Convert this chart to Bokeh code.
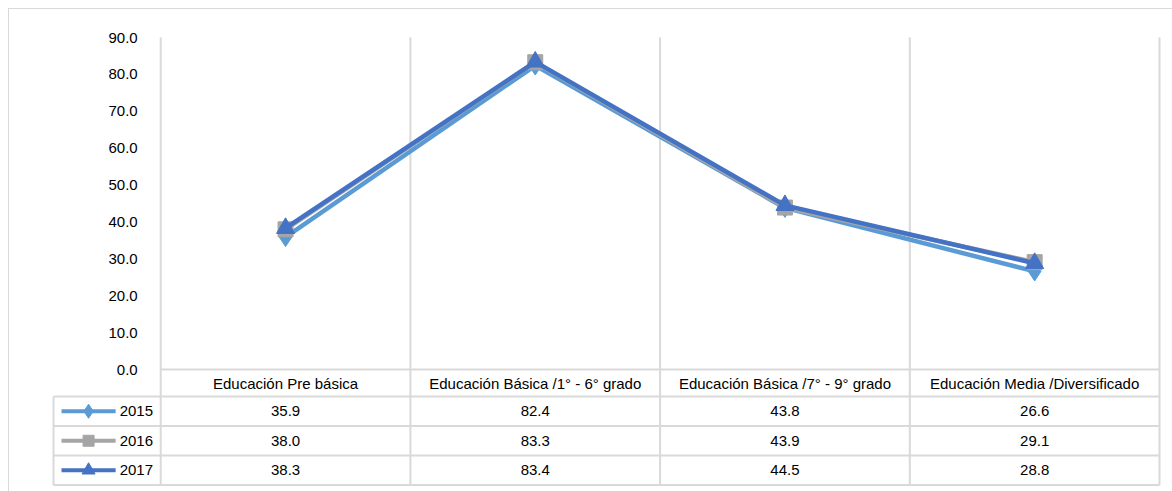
from bokeh.plotting import figure
from bokeh.models import FixedTicker, Range1d
from bokeh.embed import file_html
from bokeh.resources import INLINE
from bokeh.core.properties import value

# ---------------- data ----------------
categories = ["Educación Pre básica", "Educación Básica /1° - 6° grado",
              "Educación Básica /7° - 9° grado", "Educación Media /Diversificado"]
years = ["2015", "2016", "2017"]
v2015 = [35.9, 82.4, 43.8, 26.6]
v2016 = [38.0, 83.3, 43.9, 29.1]
v2017 = [38.3, 83.4, 44.5, 28.8]
y_ticks = [0, 10, 20, 30, 40, 50, 60, 70, 80, 90]
y_tick_labels = ["0.0", "10.0", "20.0", "30.0", "40.0", "50.0", "60.0", "70.0", "80.0", "90.0"]

series = [v2015, v2016, v2017]
colors = ["#5B9BD5", "#A5A5A5", "#4472C4"]
markers = ["diamond", "square", "triangle"]
msizes = [19, 15, 18]
legend_msizes = [14, 11, 13]

# ---------------- layout (pixels) ----------------
PX_X = 249.25            # px per category
PX_Y = 332.0 / 90.0      # px per y unit
FONT = value("Liberation Sans")
FS = "15px"
GRID = "#d9d9d9"

n = len(categories)
x_start = -111.0 / PX_X
x_end = n + 2.0 / PX_X
y_top = 90.0
y_end = y_top + 10.0 / PX_Y
y_start = -118.0 / PX_Y

header_h = 27.0 / PX_Y
row_h = 29.5 / PX_Y
legend_left = -107.0 / PX_X

p = figure(frame_width=1112, frame_height=460,
           x_range=Range1d(x_start, x_end), y_range=Range1d(y_start, y_end),
           x_axis_location=None, toolbar_location=None, output_backend="svg",
           min_border_left=40, min_border_right=11, min_border_top=18, min_border_bottom=4)
p.styles = {"border-top": "1px solid #d9d9d9", "border-left": "1px solid #d9d9d9",
            "margin": "8px 0 0 8px"}
p.outline_line_color = None
p.grid.visible = False
p.background_fill_color = "white"
p.border_fill_color = "white"

ax = p.yaxis[0]
ax.ticker = FixedTicker(ticks=y_ticks)
ax.major_label_overrides = {t: l for t, l in zip(y_ticks, y_tick_labels)}
ax.axis_line_color = None
ax.major_tick_line_color = None
ax.minor_tick_line_color = None
ax.fixed_location = -14.0 / PX_X
ax.major_label_standoff = 3
ax.major_label_text_font = "Liberation Sans"
ax.major_label_text_font_size = FS
ax.major_label_text_color = "black"

# ---------------- grid / table lines ----------------
table_bottom = -(header_h + 3 * row_h)
vx = list(range(n + 1))
p.segment(x0=vx, y0=[y_top] * len(vx), x1=vx, y1=[table_bottom] * len(vx),
          line_color=GRID, line_width=2)
p.segment(x0=[legend_left], y0=[-header_h], x1=[legend_left], y1=[table_bottom],
          line_color=GRID, line_width=2)
p.segment(x0=[0], y0=[0], x1=[n], y1=[0], line_color=GRID, line_width=2)
hy = [-(header_h + i * row_h) for i in range(4)]
p.segment(x0=[legend_left] * 4, y0=hy, x1=[n] * 4, y1=hy, line_color=GRID, line_width=2)

# ---------------- lines ----------------
xc = [i + 0.5 for i in range(n)]
for vals, c, m, s in zip(series, colors, markers, msizes):
    p.line(xc, vals, line_color=c, line_width=4.5)
    p.scatter(xc, vals, marker=m, size=s, fill_color=c, line_color=c)

# ---------------- table text ----------------
p.text(x=xc, y=[-header_h / 2] * n, text=categories, text_align="center",
       text_baseline="middle", text_font=FONT, text_font_size=FS, text_color="black")
for r, (yr, vals, c, m, s) in enumerate(zip(years, series, colors, markers, legend_msizes)):
    yc = -(header_h + (r + 0.5) * row_h)
    p.text(x=xc, y=[yc] * n, text=["%.1f" % v for v in vals], text_align="center",
           text_baseline="middle", text_font=FONT, text_font_size=FS, text_color="black")
    lx0 = -99.0 / PX_X
    lx1 = -45.0 / PX_X
    p.line([lx0, lx1], [yc, yc], line_color=c, line_width=4)
    p.scatter([(lx0 + lx1) / 2], [yc], marker=m, size=s, fill_color=c, line_color=c)
    p.text(x=[-41.0 / PX_X], y=[yc], text=[yr], text_align="left", text_baseline="middle",
           text_font=FONT, text_font_size=FS, text_color="black")

open("out.html", "w").write(file_html(p, INLINE))
